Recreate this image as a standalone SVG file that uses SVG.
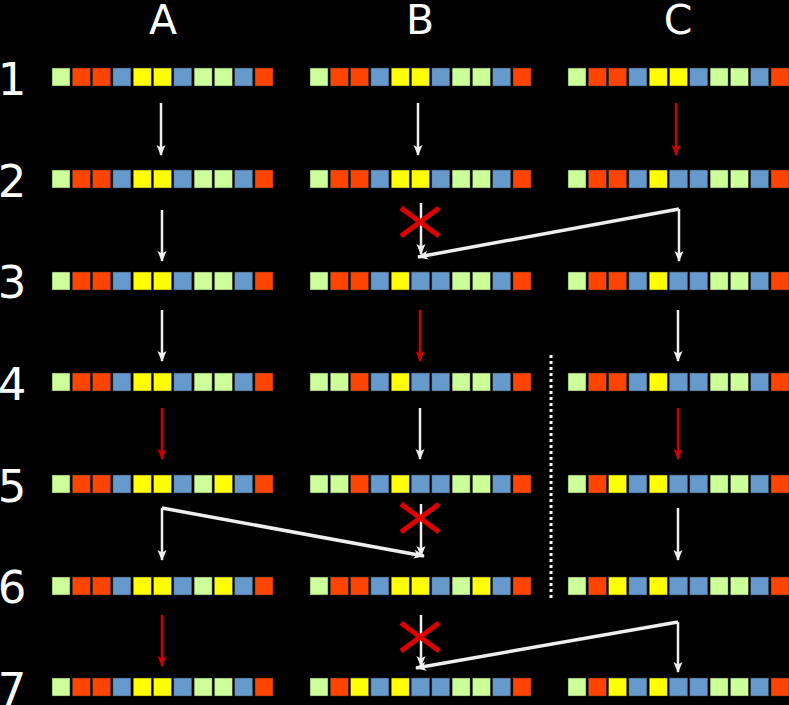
<svg xmlns="http://www.w3.org/2000/svg" width="789" height="705" viewBox="0 0 789 705">
<style>
.g{fill:#ccff99}.r{fill:#ff4400}.b{fill:#6699cc}.y{fill:#ffff00}
rect.c{stroke:#333;stroke-width:0.5}
.t{font-family:"DejaVu Sans",sans-serif;fill:#fff}
.w{stroke:#eee;stroke-width:2.5;fill:none}
.d{stroke-width:3.5}
.rd{stroke:#cc0000;stroke-width:2.5;fill:none}
.x{stroke:#dd0000;stroke-width:5}
</style>
<defs>
<marker id="aw" markerWidth="12" markerHeight="12" refX="10" refY="6" orient="auto" markerUnits="userSpaceOnUse"><path d="M0,1.5 L11,6 L0,10.5 L2.5,6 Z" fill="#eee"/></marker>
<marker id="ar" markerWidth="12" markerHeight="12" refX="10" refY="6" orient="auto" markerUnits="userSpaceOnUse"><path d="M0,1.5 L11,6 L0,10.5 L2.5,6 Z" fill="#cc0000"/></marker>
<g id="s0"><rect class="c g" x="0" width="18" height="18"/><rect class="c r" x="20.3" width="18" height="18"/><rect class="c r" x="40.6" width="18" height="18"/><rect class="c b" x="60.9" width="18" height="18"/><rect class="c y" x="81.2" width="18" height="18"/><rect class="c y" x="101.5" width="18" height="18"/><rect class="c b" x="121.8" width="18" height="18"/><rect class="c g" x="142.1" width="18" height="18"/><rect class="c g" x="162.4" width="18" height="18"/><rect class="c b" x="182.7" width="18" height="18"/><rect class="c r" x="203" width="18" height="18"/></g>
</defs>
<rect width="789" height="705" fill="#000"/>
<g id="labels" class="t">
<text x="163" y="34" font-size="41" text-anchor="middle">A</text>
<text x="420" y="34" font-size="41" text-anchor="middle">B</text>
<text x="678" y="34" font-size="41" text-anchor="middle">C</text>
<text x="12" y="95" font-size="45" text-anchor="middle">1</text>
<text x="12" y="197" font-size="45" text-anchor="middle">2</text>
<text x="12" y="298" font-size="45" text-anchor="middle">3</text>
<text x="12" y="400" font-size="45" text-anchor="middle">4</text>
<text x="12" y="502" font-size="45" text-anchor="middle">5</text>
<text x="12" y="603" font-size="45" text-anchor="middle">6</text>
<text x="12" y="705" font-size="45" text-anchor="middle">7</text>
</g>
<g id="row1">
<use href="#s0" x="52" y="68"/><use href="#s0" x="310" y="68"/><use href="#s0" x="568" y="68"/>
</g>
<g id="row2">
<use href="#s0" x="52" y="170"/><use href="#s0" x="310" y="170"/><use href="#s0" x="568" y="170"/>
<rect class="c b" x="669.5" y="170" width="18" height="18"/>
</g>
<g id="row3">
<use href="#s0" x="52" y="272"/><use href="#s0" x="310" y="272"/><use href="#s0" x="568" y="272"/>
<rect class="c b" x="411.5" y="272" width="18" height="18"/>
<rect class="c b" x="669.5" y="272" width="18" height="18"/>
</g>
<g id="row4">
<use href="#s0" x="52" y="373"/><use href="#s0" x="310" y="373"/><use href="#s0" x="568" y="373"/>
<rect class="c g" x="330.3" y="373" width="18" height="18"/>
<rect class="c b" x="411.5" y="373" width="18" height="18"/>
<rect class="c b" x="669.5" y="373" width="18" height="18"/>
</g>
<g id="row5">
<use href="#s0" x="52" y="475"/><use href="#s0" x="310" y="475"/><use href="#s0" x="568" y="475"/>
<rect class="c y" x="214.4" y="475" width="18" height="18"/>
<rect class="c g" x="330.3" y="475" width="18" height="18"/>
<rect class="c b" x="411.5" y="475" width="18" height="18"/>
<rect class="c y" x="608.6" y="475" width="18" height="18"/>
<rect class="c b" x="669.5" y="475" width="18" height="18"/>
</g>
<g id="row6">
<use href="#s0" x="52" y="577"/><use href="#s0" x="310" y="577"/><use href="#s0" x="568" y="577"/>
<rect class="c y" x="214.4" y="577" width="18" height="18"/>
<rect class="c y" x="472.4" y="577" width="18" height="18"/>
<rect class="c y" x="608.6" y="577" width="18" height="18"/>
<rect class="c b" x="669.5" y="577" width="18" height="18"/>
</g>
<g id="row7">
<use href="#s0" x="52" y="678"/><use href="#s0" x="310" y="678"/><use href="#s0" x="568" y="678"/>
<rect class="c y" x="350.6" y="678" width="18" height="18"/>
<rect class="c b" x="411.5" y="678" width="18" height="18"/>
<rect class="c y" x="608.6" y="678" width="18" height="18"/>
<rect class="c b" x="669.5" y="678" width="18" height="18"/>
</g>
<g id="connectors">
<line class="w" x1="161" y1="103" x2="161" y2="155" marker-end="url(#aw)"/>
<line class="w" x1="418" y1="103" x2="418" y2="155" marker-end="url(#aw)"/>
<line class="rd" x1="676" y1="103" x2="676" y2="155" marker-end="url(#ar)"/>
<line class="w" x1="162" y1="210" x2="162" y2="261" marker-end="url(#aw)"/>
<line class="w" x1="421" y1="203" x2="421" y2="254" marker-end="url(#aw)"/>
<line class="w" x1="679" y1="209" x2="679" y2="261" marker-end="url(#aw)"/>
<polyline class="w d" points="679,209 418,257" marker-end="url(#aw)"/>
<line class="w" x1="162" y1="310" x2="162" y2="361" marker-end="url(#aw)"/>
<line class="rd" x1="420" y1="310" x2="420" y2="361" marker-end="url(#ar)"/>
<line class="w" x1="678" y1="310" x2="678" y2="361" marker-end="url(#aw)"/>
<line class="rd" x1="162" y1="408" x2="162" y2="459" marker-end="url(#ar)"/>
<line class="w" x1="420" y1="408" x2="420" y2="459" marker-end="url(#aw)"/>
<line class="rd" x1="678" y1="408" x2="678" y2="459" marker-end="url(#ar)"/>
<line class="w" x1="162" y1="508" x2="162" y2="560" marker-end="url(#aw)"/>
<line class="w" x1="421" y1="504" x2="421" y2="556" marker-end="url(#aw)"/>
<line class="w" x1="678" y1="508" x2="678" y2="560" marker-end="url(#aw)"/>
<polyline class="w d" points="162,508 424,556" marker-end="url(#aw)"/>
<line class="rd" x1="162" y1="615" x2="162" y2="666" marker-end="url(#ar)"/>
<line class="w" x1="421" y1="615" x2="421" y2="666" marker-end="url(#aw)"/>
<line class="w" x1="678" y1="622" x2="678" y2="672" marker-end="url(#aw)"/>
<polyline class="w d" points="678,622 416,668" marker-end="url(#aw)"/>
<line x1="551" y1="355" x2="551" y2="598" stroke="#fff" stroke-width="3" stroke-dasharray="3,3"/>
</g>
<g id="crosses" class="x">
<path d="M401,208 L439,236 M401,236 L439,208"/>
<path d="M401,504 L439,532 M401,532 L439,504"/>
<path d="M401,623 L439,651 M401,651 L439,623"/>
</g>
</svg>
